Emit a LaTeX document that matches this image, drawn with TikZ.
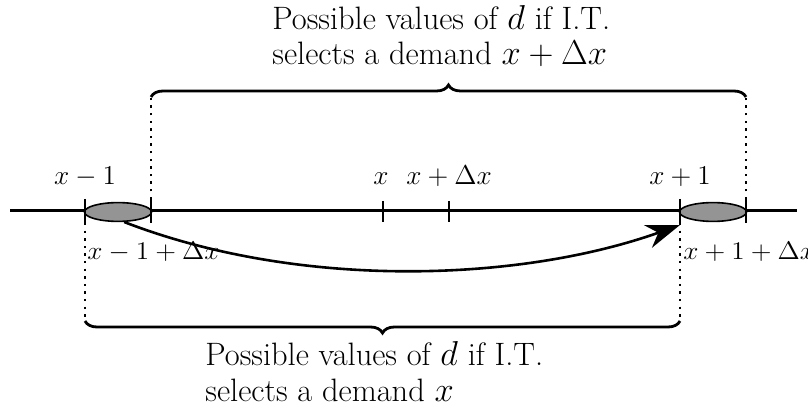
\documentclass[tikz,border=0pt]{standalone}
\usetikzlibrary{shapes.geometric,decorations.pathreplacing,arrows.meta}
\begin{document}
\begin{tikzpicture}[x=0.5pt,y=-0.5pt,
  txt/.style={font=\fontsize{16.2}{18}\selectfont,inner sep=0pt,anchor=base west},
  lbl/.style={font=\fontsize{12}{14}\selectfont,scale=1.135,inner sep=0pt,anchor=base},
  lblw/.style={font=\fontsize{12}{14}\selectfont,xscale=1.135,yscale=1.06,inner sep=0pt,anchor=base west},
  tick/.style={line width=1pt},
  dots/.style={line width=1.2pt,dash pattern=on 1.2pt off 2.6pt},
  bracestyle/.style={line width=1.4pt,decorate,decoration={brace,amplitude=6pt}},
  blob/.style={ellipse,draw,line width=0.8pt,fill=black!42,minimum width=33.5pt,minimum height=9.4pt,inner sep=0pt}]
\useasboundingbox (0,0) rectangle (808,416);
% main line
\coordinate (L) at (10,211);
\coordinate (R) at (797,211);
\draw[line width=1.5pt] (L) -- (R);
% ellipses
\node[blob] (e1) at (118,212) {};
\node[blob] (e2) at (713,212) {};
% ticks
\coordinate (t1a) at (85,199);  \coordinate (t1b) at (85,223);
\coordinate (t2a) at (151,199); \coordinate (t2b) at (151,223);
\coordinate (t3a) at (383,201); \coordinate (t3b) at (383,222);
\coordinate (t4a) at (449,201); \coordinate (t4b) at (449,222);
\coordinate (t5a) at (680,199); \coordinate (t5b) at (680,223);
\coordinate (t6a) at (746,199); \coordinate (t6b) at (746,223);
\foreach \t in {1,...,6} \draw[tick] (t\t a) -- (t\t b);
% labels above
\node[lbl] (lx1) at (85,185) {$x-1$};
\node[lbl] (lx) at (381,185) {$x$};
\node[lbl] (lxd) at (449,185) {$x+\Delta x$};
\node[lbl] (lxp) at (680,185) {$x+1$};
% labels below
\node[lblw] (lb1) at (87,260) {$x-1+\Delta x$};
\node[lblw] (lb2) at (683,260) {$x+1+\Delta x$};
% dotted lines
\coordinate (tb1) at (151,97); \coordinate (tb2) at (746,97);
\coordinate (bb1) at (85,321); \coordinate (bb2) at (680,321);
\draw[dots] (t2a) -- (tb1);
\draw[dots] (t6a) -- (tb2);
\draw[dots] (t1b) -- (bb1);
\draw[dots] (t5b) -- (bb2);
% braces
\draw[bracestyle] (tb1) -- (tb2);
\draw[bracestyle] (bb2) -- (bb1);
% curved arrow
\coordinate (aend) at (680,225);
\draw[line width=1.3pt,-{Stealth[length=17pt,width=12pt,inset=5.5pt]}] (e1.-58) .. controls (300,290) and (520,282) .. (aend);
% texts
\node[txt] (top1) at (272,30) {Possible values of $d$ if I.T.};
\node[txt] (top2) at (272,65) {selects a demand $x+\Delta x$};
\node[txt] (bot1) at (205,366) {Possible values of $d$ if I.T.};
\node[txt] (bot2) at (205,401) {selects a demand $x$};
\end{tikzpicture}
\end{document}
